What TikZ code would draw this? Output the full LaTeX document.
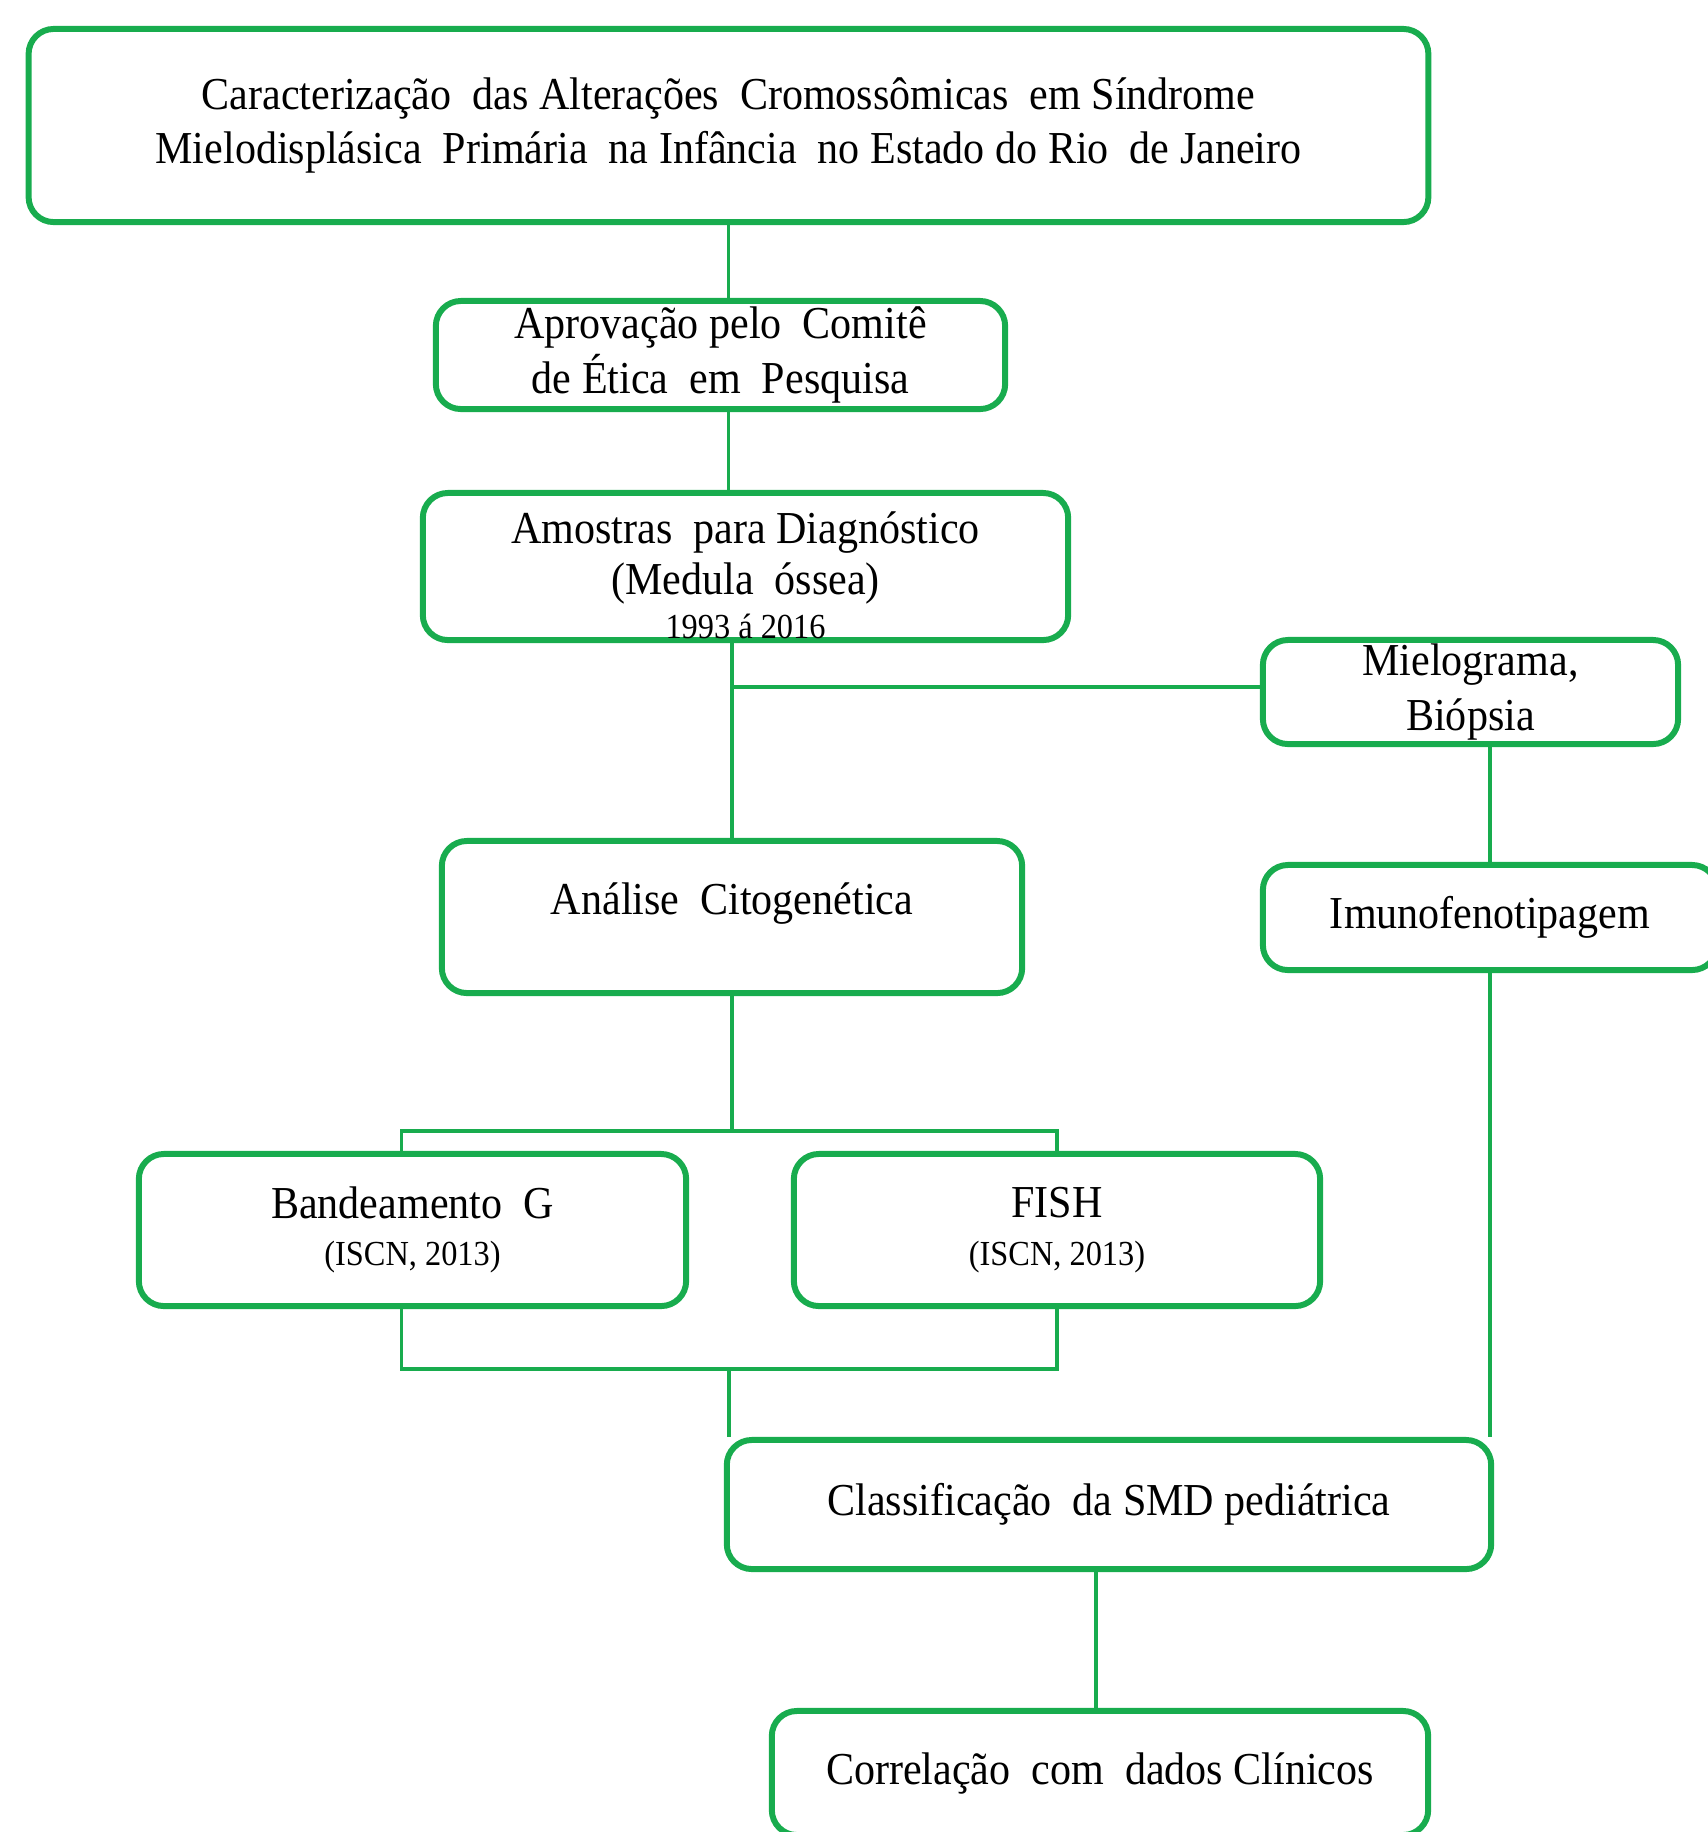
\documentclass[tikz,border=0pt]{standalone}
\usepackage{fontspec}
\setmainfont{Liberation Serif}[FakeStretch=0.92]
\usepackage{xcolor}
\usepackage{tikz}
\definecolor{verdefluxo}{RGB}{24,172,78}
\newcommand{\miudo}{\fontsize{10}{11}\selectfont}

\begin{document}
\begin{tikzpicture}[x=0.01cm,y=-0.01cm,
  etapa/.style={draw=verdefluxo,line width=1.7pt,rounded corners=0.25cm,align=center,inner sep=0pt,
    font=\fontsize{13}{15.5}\selectfont},
  texto/.style={align=center,inner sep=0pt,font=\fontsize{13}{15.5}\selectfont},
  liga/.style={draw=verdefluxo,line width=1pt}]
\useasboundingbox (0,0) rectangle (1708,1832);
\node[etapa,minimum width=13.99cm,minimum height=1.93cm] (titulo) at (728.5,125.5)
  {Caracterização \ das Alterações \ Cromossômicas \ em Síndrome\\Mielodisplásica \ Primária \ na Infância \ no Estado do Rio \ de Janeiro};
\node[etapa,minimum width=5.69cm,minimum height=1.08cm] (aprov) at (720.5,355)
  {Aprovação pelo \ Comitê\\de Ética \ em \ Pesquisa};
\node[etapa,minimum width=6.45cm,minimum height=1.47cm] (amostras) at (745.5,566.5) {};
\node[texto] (amostrastxt) at ([yshift=-0.09cm]amostras.center)
  {Amostras \ para Diagnóstico\\[-1pt](Medula \ óssea)\\[-3pt]{\miudo 1993 á 2016}};
\node[etapa,minimum width=4.15cm,minimum height=1.04cm] (mielo) at (1470.5,692)
  {Mielograma,\\Biópsia};
\node[etapa,minimum width=5.80cm,minimum height=1.52cm,text depth=0.36cm] (analise) at (732,917)
  {Análise \ Citogenética};
\node[etapa,minimum width=4.54cm,minimum height=1.05cm] (imuno) at (1490,917.5)
  {Imunofenotipagem};
\node[etapa,minimum width=5.47cm,minimum height=1.52cm] (band) at (412.5,1230)
  {Bandeamento \ G\\[-2pt]{\miudo (ISCN, 2013)}};
\node[etapa,minimum width=5.26cm,minimum height=1.52cm] (fish) at (1057,1230)
  {FISH\\[-2pt]{\miudo (ISCN, 2013)}};
\node[etapa,minimum width=7.64cm,minimum height=1.29cm] (classif) at (1109,1504.5)
  {Classificação \ da SMD pediátrica};
\node[etapa,minimum width=6.56cm,minimum height=1.24cm] (correl) at (1100,1773)
  {Correlação \ com \ dados Clínicos};

\coordinate (ramo) at ([yshift=0.05cm]analise.north |- mielo.west);
\coordinate (divide) at (732,1131);
\coordinate (junta) at (729,1369);
\draw[liga] (titulo.south) -- (titulo.south |- aprov.north);
\draw[liga] (aprov.south -| titulo.south) -- (amostras.north -| titulo.south);
\draw[liga] (amostras.south -| analise.north) -- (analise.north);
\draw[liga] (ramo) -- (ramo -| mielo.west);
\draw[liga] (mielo.south -| imuno.north) -- (imuno.north);
\draw[liga] (imuno.south) -- (imuno.south |- classif.north);
\draw[liga] (analise.south) -- (divide);
\draw[liga] ([xshift=-0.11cm]band.north) |- (divide) -| (fish.north);
\draw[liga] ([xshift=-0.11cm]band.south) |- (junta) -| (fish.south);
\draw[liga] (junta) -- (junta |- classif.north);
\draw[liga] ([xshift=-0.04cm]classif.south -| correl.north) -- ([xshift=-0.04cm]correl.north);
\end{tikzpicture}
\end{document}
